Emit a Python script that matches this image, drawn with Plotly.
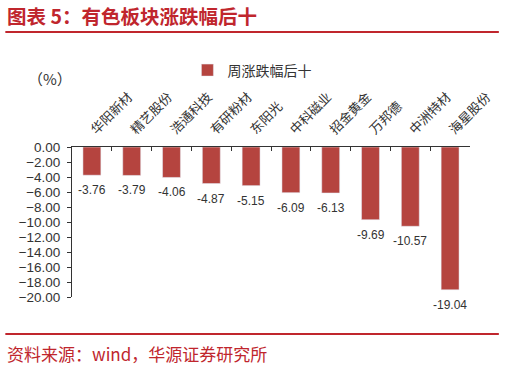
import plotly.graph_objects as go

categories = ["华阳新材", "精艺股份", "浩通科技", "有研粉材", "东阳光", "中科磁业", "招金黄金", "万邦德", "中洲特材", "海星股份"]
values = [-3.76, -3.79, -4.06, -4.87, -5.15, -6.09, -6.13, -9.69, -10.57, -19.04]
series_name = "周涨跌幅后十"
y_ticks = [0, -2, -4, -6, -8, -10, -12, -14, -16, -18, -20]

RED = "#c0262d"
BAR = "#b5443f"
CJK = "Noto Sans CJK SC"

fig = go.Figure()
fig.add_trace(go.Bar(
    x=categories, y=values, name=series_name,
    marker=dict(color=BAR), width=0.45,
))

for c, v in zip(categories, values):
    fig.add_annotation(x=c, y=v, text=f"{v:.2f}", showarrow=False,
                       yanchor="middle", yshift=-15,
                       font=dict(family="Liberation Sans, Arial", size=12, color="#333333"))

W, H = 506, 368
L, R, T, B = 72, 34, 147, 71
fig.update_layout(
    width=W, height=H,
    margin=dict(l=L, r=R, t=T, b=B),
    paper_bgcolor="white", plot_bgcolor="white",
    showlegend=True,
    legend=dict(x=0.29, y=1.51, xanchor="left", yanchor="middle",
                font=dict(family=CJK, size=14, color="#333333"),
                bgcolor="rgba(0,0,0,0)", itemwidth=30),
    xaxis=dict(side="top", type="category", tickangle=-45,
               showline=True, linecolor="#333333", linewidth=1,
               ticks="inside", tickson="boundaries", ticklen=4, tickcolor="#333333",
               ticklabelstandoff=4,
               tickfont=dict(family=CJK, size=13, color="#333333"),
               showgrid=False, zeroline=False),
    yaxis=dict(range=[-20, 0], tickvals=y_ticks, tickformat=".2f",
               showline=True, linecolor="#333333", linewidth=1,
               ticks="outside", ticklen=4, tickcolor="#333333",
               ticklabelstandoff=4,
               tickfont=dict(family="Liberation Sans, Arial", size=13.5, color="#333333"),
               showgrid=False, zeroline=False),
)

fig.add_annotation(text="<b>图表 5：有色板块涨跌幅后十</b>", xref="paper", yref="paper",
                   x=-L / 400, y=1 + (T - 15) / 150, xanchor="left", yanchor="middle",
                   xshift=5, showarrow=False,
                   font=dict(family=CJK, size=19.5, color=RED))
fig.add_annotation(text="（%）", xref="paper", yref="paper",
                   x=-L / 400, y=1 + (T - 78) / 150, xanchor="left", yanchor="middle",
                   xshift=26, showarrow=False,
                   font=dict(family=CJK, size=15, color="#333333"))
fig.add_annotation(text="资料来源：wind，华源证券研究所", xref="paper", yref="paper",
                   x=-L / 400, y=-(353 - 297) / 150, xanchor="left", yanchor="middle",
                   xshift=5, showarrow=False,
                   font=dict(family=CJK, size=17, color=RED))

for yp in (32, 334):
    yy = 1 + (T - yp) / 150
    fig.add_shape(type="line", xref="paper", yref="paper",
                  x0=(5 - L) / 400, x1=(501 - L) / 400, y0=yy, y1=yy,
                  line=dict(color=RED, width=2))

fig.write_html("out.html")
